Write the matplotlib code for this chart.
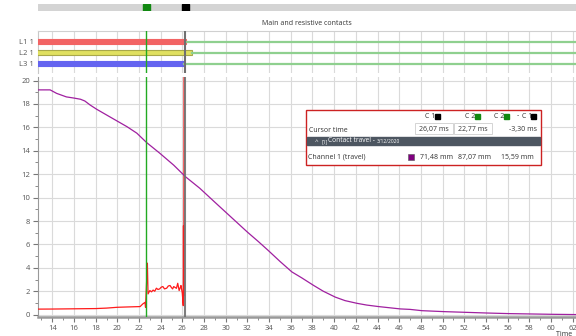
import matplotlib.pyplot as plt
from matplotlib.patches import Rectangle
from matplotlib.ticker import MultipleLocator

plt.rcParams['font.family'] = ['Open Sans', 'DejaVu Sans']

# cursor positions (ms)
c1 = 26.28
c2 = 22.68

# channel 1 (travel), purple
travel_t = [12.0, 13.8, 14.4, 15.3, 16.0, 16.6, 17.0, 17.5, 18.1, 19.3, 20.9, 21.8,
            22.7, 23.9, 25.2, 26.3, 27.6, 29.0, 30.0, 31.0, 32.0, 33.0, 33.9, 35.0,
            36.1, 37.0, 38.1, 39.0, 40.1, 41.0, 42.1, 43.0, 44.1, 45.0, 46.1,
            47.0, 48.1, 50.1, 52.1, 54.1, 56.1, 58.1, 60.1, 63.0]
travel_v = [19.2, 19.2, 18.9, 18.6, 18.5, 18.4, 18.25, 17.9, 17.54, 16.9, 16.05, 15.5,
            14.7, 13.8, 12.77, 11.77, 10.8, 9.6, 8.75, 7.9, 7.05, 6.25, 5.5, 4.55,
            3.65, 3.15, 2.5, 2.0, 1.5, 1.2, 0.97, 0.82, 0.69, 0.6, 0.49,
            0.45, 0.34, 0.26, 0.2, 0.14, 0.09, 0.06, 0.03, 0.0]

# contact resistance, red
res_t = [12.0, 14.0, 16.0, 18.0, 19.0, 20.0, 21.0, 22.1, 22.34, 22.55, 22.6, 22.77,
         22.83, 23.0, 23.15, 23.3, 23.45, 23.6, 23.75, 23.9, 24.05, 24.2, 24.35, 24.55,
         24.7, 24.86, 25.0, 25.1, 25.2, 25.3, 25.45, 25.57, 25.7, 25.8, 25.87, 25.99,
         26.08, 26.10, 26.12, 26.14, 26.16]
res_v = [0.47, 0.48, 0.5, 0.52, 0.56, 0.63, 0.66, 0.69, 0.91, 1.05, 0.63, 4.4,
         1.77, 2.06, 1.95, 2.1, 2.0, 2.26, 2.15, 2.2, 2.35, 2.4, 2.2, 2.26,
         2.45, 2.49, 2.3, 2.2, 2.4, 2.34, 2.25, 2.68, 2.06, 2.3, 2.49, 1.83,
         0.77, 7.6, 1.6, 7.0, 30.0]

# contacts panel
contact_labels = ['L1 1', 'L2 1', 'L3 1']
contact_open = [26.3, 26.86, 26.15]
contact_colors = ['#f26464', '#e0e060', '#6464f0']
contact_edges = ['#f26464', '#a8a84a', '#6464f0']

W, H = 576, 336
fig = plt.figure(figsize=(W / 100, H / 100), dpi=100)

def box(l, t, r, b):
    return [l / W, 1 - b / H, (r - l) / W, (b - t) / H]

xmin, xmax = 12.68, 62.31
tick_col = '#555555'
grid_col = '#dadada'

# scroll bar
sax = fig.add_axes(box(38, 4, 576, 11))
sax.set_xlim(xmin, xmax)
sax.set_ylim(0, 1)
sax.axis('off')
sax.add_patch(Rectangle((xmin, 0), xmax - xmin, 1, color='#d4d4d4'))
sax.add_patch(Rectangle((c2 - 0.34, 0), 0.68, 1, color='#118811'))
sax.add_patch(Rectangle((c1 - 0.34, 0), 0.68, 1, color='#000000'))

# contacts panel
cax = fig.add_axes(box(38, 31, 576, 73))
cax.set_xlim(xmin, xmax)
cax.set_ylim(0.14, 3.96)
ys = [3, 2, 1]
for y, end, fc, ec in zip(ys, contact_open, contact_colors, contact_edges):
    cax.barh(y, end - 10, left=10, height=0.45, color=fc, edgecolor=ec, lw=0.8, zorder=3)
    cax.plot([end, 70], [y, y], color='#8fd08f', lw=1.6, zorder=3)
cax.set_yticks(ys)
cax.set_yticklabels(contact_labels)
cax.xaxis.set_major_locator(MultipleLocator(2))
cax.tick_params(axis='x', length=0, labelbottom=False)
cax.tick_params(axis='y', length=0, labelsize=5.5, labelcolor=tick_col, pad=3)
cax.grid(axis='x', color=grid_col, lw=0.8)
for s in ['right', 'bottom']:
    cax.spines[s].set_visible(False)
cax.spines['top'].set_color('#d0d0d0')
cax.spines['left'].set_color('#c8c8c8')
cax.axvline(c2, color='#22aa22', lw=1, zorder=4)
cax.axvline(c1, color='#707070', lw=1.5, zorder=4)
cax.set_title('Main and resistive contacts', fontsize=5, color='#333333', pad=4)

# main panel
ax = fig.add_axes(box(38, 77, 576, 317))
ax.set_xlim(xmin, xmax)
ax.set_ylim(-0.2, 20.3)
ax.plot(res_t, res_v, color='#ff1a1a', lw=0.9, zorder=3)
ax.plot(travel_t, travel_v, color='#a020a0', lw=0.9, zorder=3)
ax.axvline(c2, color='#22aa22', lw=1, zorder=4)
ax.axvline(c1, color='#707070', lw=1.5, alpha=0.9, zorder=4)
ax.xaxis.set_major_locator(MultipleLocator(2))
ax.xaxis.set_minor_locator(MultipleLocator(1))
ax.yaxis.set_major_locator(MultipleLocator(2))
ax.yaxis.set_minor_locator(MultipleLocator(1))
ax.tick_params(which='major', length=3.5, width=0.8, color='#777777', labelsize=5.5,
               labelcolor=tick_col, pad=2)
ax.tick_params(which='minor', length=2, width=0.6, color='#777777')
ax.grid(which='major', color=grid_col, lw=0.8)
for s in ['right', 'top']:
    ax.spines[s].set_visible(False)
ax.spines['left'].set_color('#999999')
ax.spines['bottom'].set_color('#999999')
ax.spines['bottom'].set_linewidth(1.8)

# overlay for the cursor info box
ov = fig.add_axes([0, 0, 1, 1])
ov.set_xlim(0, W)
ov.set_ylim(H, 0)
ov.axis('off')
ov.add_patch(Rectangle((306, 110), 235, 55, facecolor='white', edgecolor='#cc2222', lw=1))
fs = 5
tc = '#333333'
ov.text(425, 116, 'C 1', fontsize=fs, color=tc, va='center')
ov.add_patch(Rectangle((435, 113.5), 5, 5, color='black'))
ov.text(465, 116, 'C 2', fontsize=fs, color=tc, va='center')
ov.add_patch(Rectangle((475, 113.5), 5, 5, color='#118811'))
ov.text(494, 116, 'C 2', fontsize=fs, color=tc, va='center')
ov.add_patch(Rectangle((504, 113.5), 5, 5, color='#118811'))
ov.text(517, 116, '-', fontsize=fs, color=tc, va='center')
ov.text(522, 116, 'C 1', fontsize=fs, color=tc, va='center')
ov.add_patch(Rectangle((531, 113.5), 5, 5, color='black'))

ov.text(309, 130, 'Cursor time', fontsize=fs, color=tc, va='center')
ov.add_patch(Rectangle((415, 123), 38, 11, facecolor='white', edgecolor='#d4d4d4', lw=0.7))
ov.add_patch(Rectangle((454, 123), 38, 11, facecolor='white', edgecolor='#d4d4d4', lw=0.7))
ov.text(434, 129, '26,07 ms', fontsize=fs, color=tc, va='center', ha='center')
ov.text(473, 129, '22,77 ms', fontsize=fs, color=tc, va='center', ha='center')
ov.text(537, 129, '-3,30 ms', fontsize=fs, color=tc, va='center', ha='right')

ov.add_patch(Rectangle((307, 137), 233, 8, color='#4d5661'))
ov.text(315, 141.5, '^', fontsize=4.5, color='white', va='center')
ov.text(322, 141.5, '[1]', fontsize=3.6, color='white', va='center')
ov.text(328, 141, 'Contact travel -', fontsize=4.8, color='white', va='center')
ov.text(377, 141.5, '3/12/2020', fontsize=3.5, color='white', va='center')

ov.text(308, 157, 'Channel 1 (travel)', fontsize=fs, color=tc, va='center')
ov.add_patch(Rectangle((408, 154), 5.5, 5.5, facecolor='#800080', edgecolor='#555555', lw=0.4))
ov.text(437, 157, '71,48 mm', fontsize=fs, color=tc, va='center', ha='center')
ov.text(475, 157, '87,07 mm', fontsize=fs, color=tc, va='center', ha='center')
ov.text(534, 157, '15,59 mm', fontsize=fs, color=tc, va='center', ha='right')

ov.text(556, 334.5, 'Time   ms', fontsize=5, color=tc, va='center')

fig.savefig('out.png', dpi=100)
